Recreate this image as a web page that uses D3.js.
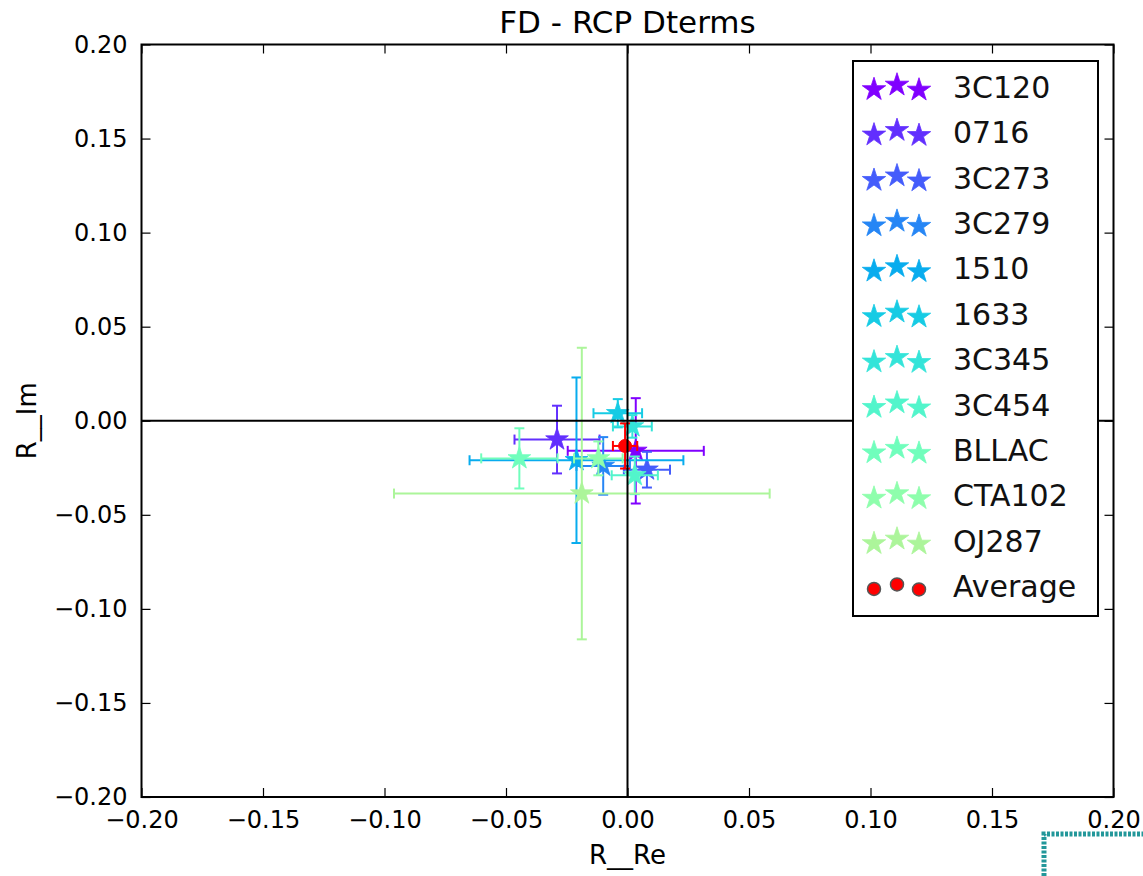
<!DOCTYPE html>
<html>
<head>
<meta charset="utf-8">
<script src="https://cdn.jsdelivr.net/npm/d3@7"></script>
<style>
  html, body { margin: 0; padding: 0; background: #ffffff; }
  svg { display: block; font-family: "DejaVu Sans", sans-serif; }
</style>
</head>
<body>
<svg id="chart" width="1143" height="876"></svg>
<script>
// Source names and their D-term estimates (real / imaginary) with 1-sigma errors
const sources = ["3C120", "0716", "3C273", "3C279", "1510", "1633", "3C345", "3C454", "BLLAC", "CTA102", "OJ287"];
const reVals  = [0.0034, -0.029, 0.008, -0.010, -0.021, -0.004, 0.002, 0.003, -0.0445, -0.012, -0.0188];
const imVals  = [-0.016, -0.010, -0.026, -0.024, -0.021, 0.004, -0.003, -0.029, -0.020, -0.020, -0.0387];
const reErrs  = [0.028, 0.0175, 0.0095, 0.011, 0.044, 0.010, 0.008, 0.0095, 0.0157, 0.010, 0.0773];
const imErrs  = [0.028, 0.018, 0.0095, 0.0153, 0.044, 0.0075, 0.006, 0.010, 0.016, 0.009, 0.0775];
const sourceColors = ["#8000ff", "#622ffe", "#445cfb", "#2686f5", "#08acee", "#16cbe4", "#34e4d9", "#52f5cb", "#70febc", "#8efeac", "#acf59a"];

// Average over all sources
const avgRe = [-0.001];
const avgIm = [-0.0134];
const avgReErr = [0.005];
const avgImErr = [0.012];

// Axis ticks
const tickValues = [-0.20, -0.15, -0.10, -0.05, 0.00, 0.05, 0.10, 0.15, 0.20];
const tickLabels = ["\u22120.20", "\u22120.15", "\u22120.10", "\u22120.05", "0.00", "0.05", "0.10", "0.15", "0.20"];

const svg = d3.select("#chart");
const plotL = 141.5, plotR = 1113.5, plotT = 44.5, plotB = 797;

const x = d3.scaleLinear().domain([-0.2, 0.2]).range([plotL, plotR]);
const y = d3.scaleLinear().domain([-0.2, 0.2]).range([plotB, plotT]);

const tickLen = 9;
const fmt = v => tickLabels[tickValues.indexOf(v)];

// Axes: ticks pointing inward on all four sides
const xb = d3.axisBottom(x).tickValues(tickValues).tickFormat(fmt).tickSizeInner(-tickLen).tickSizeOuter(0).tickPadding(14);
const xt = d3.axisTop(x).tickValues(tickValues).tickFormat("").tickSizeInner(-tickLen).tickSizeOuter(0);
const yl = d3.axisLeft(y).tickValues(tickValues).tickFormat(fmt).tickSizeInner(-tickLen).tickSizeOuter(0).tickPadding(14);
const yr = d3.axisRight(y).tickValues(tickValues).tickFormat("").tickSizeInner(-tickLen).tickSizeOuter(0);

function styleAxis(g) {
  g.select(".domain").remove();
  g.selectAll(".tick line").attr("stroke", "#000").attr("stroke-width", 1.2);
  g.selectAll(".tick text").attr("fill", "#000").style("font-size", "24px").style("font-family", "DejaVu Sans");
}
svg.append("g").attr("transform", `translate(0,${plotB})`).call(xb).call(styleAxis);
svg.append("g").attr("transform", `translate(0,${plotT})`).call(xt).call(styleAxis);
svg.append("g").attr("transform", `translate(${plotL},0)`).call(yl).call(styleAxis);
svg.append("g").attr("transform", `translate(${plotR},0)`).call(yr).call(styleAxis);

// Data layer
const plot = svg.append("g");
const capHalf = 5;

function errorBars(g, cx, cy, ex, ey, color) {
  const lines = [
    [x(cx - ex), y(cy), x(cx + ex), y(cy)],
    [x(cx), y(cy - ey), x(cx), y(cy + ey)],
    [x(cx - ex), y(cy) - capHalf, x(cx - ex), y(cy) + capHalf],
    [x(cx + ex), y(cy) - capHalf, x(cx + ex), y(cy) + capHalf],
    [x(cx) - capHalf, y(cy - ey), x(cx) + capHalf, y(cy - ey)],
    [x(cx) - capHalf, y(cy + ey), x(cx) + capHalf, y(cy + ey)]
  ];
  g.selectAll(null).data(lines).enter().append("line")
    .attr("x1", d => d[0]).attr("y1", d => d[1])
    .attr("x2", d => d[2]).attr("y2", d => d[3])
    .attr("stroke", color).attr("stroke-width", 2);
}

const star = d3.symbol().type(d3.symbolStar).size(160);

sources.forEach((s, i) => {
  const g = plot.append("g");
  errorBars(g, reVals[i], imVals[i], reErrs[i], imErrs[i], sourceColors[i]);
  g.append("path").attr("d", star)
    .attr("transform", `translate(${x(reVals[i])},${y(imVals[i])})`)
    .attr("fill", sourceColors[i]).attr("stroke", sourceColors[i]).attr("stroke-width", 0.8);
});

const ga = plot.append("g");
errorBars(ga, avgRe[0], avgIm[0], avgReErr[0], avgImErr[0], "#ff0000");
ga.append("circle").attr("cx", x(avgRe[0])).attr("cy", y(avgIm[0])).attr("r", 6.5)
  .attr("fill", "#ff0000").attr("stroke", "#ff0000").attr("stroke-width", 1);

// Zero lines
svg.append("line").attr("x1", plotL).attr("x2", plotR).attr("y1", y(0)).attr("y2", y(0))
  .attr("stroke", "#000").attr("stroke-width", 2);
svg.append("line").attr("x1", x(0)).attr("x2", x(0)).attr("y1", plotT).attr("y2", plotB)
  .attr("stroke", "#000").attr("stroke-width", 2);

// Frame
svg.append("rect").attr("x", plotL).attr("y", plotT).attr("width", plotR - plotL).attr("height", plotB - plotT)
  .attr("fill", "none").attr("stroke", "#000").attr("stroke-width", 2);

// Title and axis labels
svg.append("text").attr("x", (plotL + plotR) / 2).attr("y", 33).attr("text-anchor", "middle")
  .style("font-size", "31px").text("FD - RCP Dterms");
svg.append("text").attr("x", (plotL + plotR) / 2).attr("y", 864).attr("text-anchor", "middle")
  .style("font-size", "26px").text("R__Re");
svg.append("text").attr("transform", `translate(36,${(plotT + plotB) / 2}) rotate(-90)`).attr("text-anchor", "middle")
  .style("font-size", "26px").text("R__Im");

// Legend
const legend = svg.append("g");
legend.append("rect").attr("x", 853).attr("y", 61).attr("width", 245).attr("height", 555)
  .attr("fill", "#fff").attr("stroke", "#000").attr("stroke-width", 2);
const rowY0 = 87, rowStep = 45.4;
const markerXs = [874, 897, 919];
const markerDy = [2.5, -2, 3];
const legendStar = d3.symbol().type(d3.symbolStar).size(170);
const legendNames = sources.concat(["Average"]);
const legendColors = sourceColors.concat(["#ff0000"]);
legendNames.forEach((name, i) => {
  const cy = rowY0 + i * rowStep;
  markerXs.forEach((mx, k) => {
    if (name === "Average") {
      legend.append("circle").attr("cx", mx).attr("cy", cy + markerDy[k]).attr("r", 6.5)
        .attr("fill", "#ff0000").attr("stroke", "#555").attr("stroke-width", 1.5);
    } else {
      legend.append("path").attr("d", legendStar)
        .attr("transform", `translate(${mx},${cy + markerDy[k]})`)
        .attr("fill", legendColors[i]).attr("stroke", legendColors[i]).attr("stroke-width", 0.8);
    }
  });
  legend.append("text").attr("x", 953).attr("y", cy).attr("dy", "0.36em")
    .style("font-size", "30px").attr("fill", "#111").text(name);
});

// Corner marker in the lower right
svg.append("path").attr("d", "M1044,876 L1044,834 L1143,834")
  .attr("fill", "none").attr("stroke", "#22979a").attr("stroke-width", 5)
  .attr("stroke-dasharray", "3,1.5");
</script>
</body>
</html>
